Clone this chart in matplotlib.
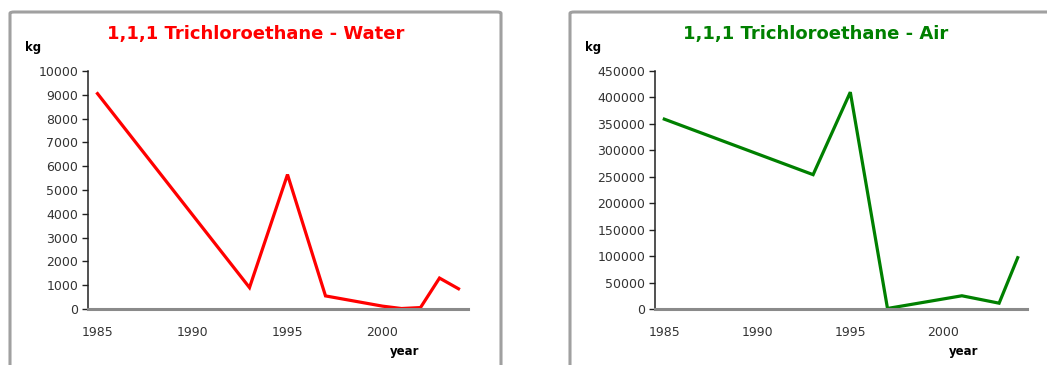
import matplotlib.pyplot as plt
from matplotlib.patches import FancyBboxPatch

# dados
anos_agua = [1985, 1993, 1995, 1997, 2000, 2001, 2002, 2003, 2004]
kg_agua = [9050, 900, 5650, 550, 120, 20, 60, 1300, 850]

anos_ar = [1985, 1993, 1995, 1997, 2001, 2003, 2004]
kg_ar = [359000, 254000, 410000, 1000, 25000, 11000, 97000]

ticks_ano = [1985, 1990, 1995, 2000]
ticks_agua = list(range(0, 10001, 1000))
ticks_ar = list(range(0, 450001, 50000))

W, H = 1047, 365
fig = plt.figure(figsize=(W / 100, H / 100), dpi=100)
plt.rcParams['font.family'] = ['DejaVu Sans']


def fx(px):
    return px / W


def fy(py):
    return 1 - py / H


def painel(x0, x1, ax_left, ax_right, anos, valores, yticks, cor, titulo, tx, year_x):
    # moldura cinza do painel
    caixa = FancyBboxPatch((fx(x0), fy(400)), fx(x1 - x0), (400 - 12) / H,
                           boxstyle="round,pad=0,rounding_size=0.004",
                           transform=fig.transFigure, facecolor='none',
                           edgecolor='#a0a0a0', linewidth=2.2, zorder=-1)
    fig.patches.append(caixa)

    ax = fig.add_axes([fx(ax_left), fy(309), fx(ax_right - ax_left), (309 - 71) / H])
    ax.plot(anos, valores, color=cor, linewidth=2.3, solid_joinstyle='miter')
    ax.set_xlim(1984.5, 2004.5)
    ax.set_ylim(0, yticks[-1])
    ax.set_xticks(ticks_ano)
    ax.set_yticks(yticks)
    ax.tick_params(axis='x', length=0, pad=12, labelsize=9, labelcolor='#333333')
    ax.tick_params(axis='y', length=4, width=1, color='#222222', pad=3,
                   labelsize=9, labelcolor='#333333')
    for lado in ['top', 'right']:
        ax.spines[lado].set_visible(False)
    ax.spines['left'].set_color('#222222')
    ax.spines['left'].set_linewidth(1.1)
    ax.spines['bottom'].set_color('#8a8a8a')
    ax.spines['bottom'].set_linewidth(2.2)
    ax.patch.set_alpha(0)

    fig.text(fx(tx), fy(34), titulo, color=cor, fontsize=13, fontweight='bold',
             ha='center', va='center')
    fig.text(fx(x0 + 15), fy(48), 'kg', fontsize=8.5, fontweight='bold', va='center')
    fig.text(fx(year_x), fy(352), 'year', fontsize=8.5, fontweight='bold', va='center')
    return ax


painel(10, 501, 88, 468, anos_agua, kg_agua, ticks_agua, '#ff0000',
       '1,1,1 Trichloroethane - Water', 256, 390)
painel(570, 1100, 655, 1027, anos_ar, kg_ar, ticks_ar, '#008000',
       '1,1,1 Trichloroethane - Air', 816, 949)

fig.savefig('out.png', dpi=100)
